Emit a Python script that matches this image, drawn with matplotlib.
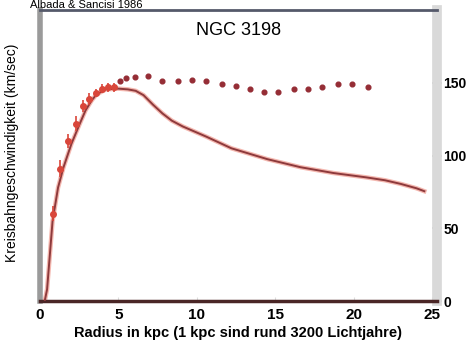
import matplotlib
matplotlib.use("Agg")
from matplotlib import pyplot as plt

# NGC 3198 rotation curve
# inner observed points, with error bars
r_inner = [0.8, 1.25, 1.8, 2.3, 2.75, 3.1, 3.55, 3.95, 4.35, 4.7]
v_inner = [60, 91, 110, 122, 134, 139, 143, 146, 147, 147]
e_inner = [5, 6, 5, 5, 4, 4, 3, 3, 3, 3]

# outer observed points
r_outer = [5.1, 5.5, 6.05, 6.9, 7.8, 8.8, 9.7, 10.6, 11.6, 12.5, 13.4,
           14.3, 15.2, 16.2, 17.1, 18.0, 19.0, 19.9, 20.9]
v_outer = [151, 153, 154, 155, 151, 151, 152, 151, 149, 148, 146,
           144, 144, 146, 146, 147, 149, 149, 147]

# curve expected from visible matter
r_disk = [0.3, 0.45, 0.8, 1.15, 1.5, 2.0, 2.5, 2.9, 3.3, 3.6, 4.2, 5.0,
          5.6, 6.1, 6.6, 7.2, 7.8, 8.4, 9.1, 10.6, 12.2, 14.5, 16.6, 18.7,
          20.8, 22.0, 23.0, 24.0, 24.5]
v_disk = [0, 8, 55, 78, 92, 108, 121, 131, 138, 142, 145.5, 146,
          145.5, 144.5, 141.5, 135, 129, 124, 120, 113, 105, 97.5, 92, 88,
          85, 83, 80.5, 77.5, 75.5]

plt.rcParams['font.family'] = ['Liberation Sans', 'DejaVu Sans']

fig = plt.figure(figsize=(4.68, 3.48), dpi=100)
ax = fig.add_axes([0.0855, 0.135, 0.848, 0.836])

ax.plot(r_disk, v_disk, color='#f4b8b0', lw=3.2, zorder=2)
ax.plot(r_disk, v_disk, color='#8e3a3c', lw=1.4, zorder=3)
ax.errorbar(r_inner, v_inner, yerr=e_inner, fmt='o', ms=4, color='#d9463a',
            ecolor='#d9463a', elinewidth=1.2, capsize=0, zorder=4)
ax.plot(r_outer, v_outer, 'o', ms=3.4, color='#952d35', zorder=4)

ax.set_xlim(0, 25.3)
ax.set_ylim(0, 200)

ax.set_xticks([0, 5, 10, 15, 20, 25])
ax.set_yticks([0, 50, 100, 150])
ax.yaxis.tick_right()
ax.tick_params(axis='y', right=True, left=False, direction='inout', length=7,
               width=1.2, color='#b0b0b0', labelsize=10, pad=1)
ax.tick_params(axis='x', direction='in', length=3, color='#dddddd',
               labelsize=11, pad=5)
for lab in ax.get_xticklabels() + ax.get_yticklabels():
    lab.set_fontweight('bold')

ax.spines['left'].set_color('#9a9a9a')
ax.spines['left'].set_linewidth(4)
ax.spines['right'].set_color('#d9d9d9')
ax.spines['right'].set_linewidth(7)
ax.spines['top'].set_color('#55596a')
ax.spines['top'].set_linewidth(2)
ax.spines['bottom'].set_color('#4a2626')
ax.spines['bottom'].set_linewidth(2.5)

ax.set_xlabel('Radius in kpc (1 kpc sind rund 3200 Lichtjahre)',
              fontsize=10.5, fontweight='bold', labelpad=3)
fig.text(0.026, 0.56, 'Kreisbahngeschwindigkeit (km/sec)', rotation=90,
         ha='center', va='center', fontsize=10)
ax.text(0.5, 0.93, 'NGC 3198', transform=ax.transAxes, ha='center',
        va='center', fontsize=13)
fig.text(0.064, 0.999, 'Albada & Sancisi 1986', ha='left', va='top',
         fontsize=8)

fig.savefig('out.png', dpi=100)
